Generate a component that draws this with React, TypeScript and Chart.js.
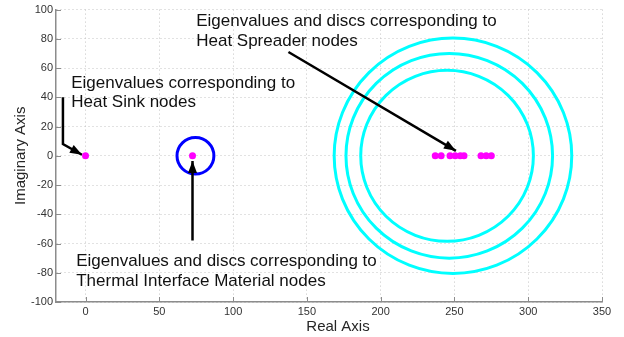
import React, { useEffect, useRef } from "react";
import { Chart, registerables } from "chart.js";

Chart.register(...registerables);

// Axis ticks
const X_TICKS = [0, 50, 100, 150, 200, 250, 300, 350];
const Y_TICKS = [-100, -80, -60, -40, -20, 0, 20, 40, 60, 80, 100];

// Eigenvalues (real parts; imaginary parts are zero)
const HEAT_SINK_EIG = [0];
const TIM_EIG = [72.5];
const SPREADER_EIG = [237, 241, 247, 250.5, 254, 256.5, 268, 271.5, 275];

// Gershgorin discs
const TIM_DISC_CENTERS = [74.5];
const TIM_DISC_RADII = [12.5];
const SPREADER_DISC_CENTERS = [245, 246.5, 249];
const SPREADER_DISC_RADII = [58.5, 70, 80.5];

// Arrows (data coordinates, last point is the tip)
const ARROW_HS_X = [-15.3, -15.3, -2.4];
const ARROW_HS_Y = [40, 8, 0.7];
const ARROW_TIM_X = [72.5, 72.5];
const ARROW_TIM_Y = [-58, -3.5];
const ARROW_HSP_X = [137.5, 251];
const ARROW_HSP_Y = [71, 3.4];

// Annotations
const LABEL_HS = ["Eigenvalues corresponding to", "Heat Sink nodes"];
const LABEL_HS_POS = [-9.7, 46.4];
const LABEL_HSP = ["Eigenvalues and discs corresponding to", "Heat Spreader nodes"];
const LABEL_HSP_POS = [75, 88.6];
const LABEL_TIM = ["Eigenvalues and discs corresponding to", "Thermal Interface Material nodes"];
const LABEL_TIM_POS = [-6.3, -75.5];

const X_TITLE = "Real Axis";
const Y_TITLE = "Imaginary Axis";

const FONT = '"Liberation Sans", Arial, Helvetica, sans-serif';

const toPts = (xs: number[], ys: number[]) => xs.map((x, i) => ({ x, y: ys[i] }));

export default function App() {
  const ref = useRef<HTMLCanvasElement>(null);

  useEffect(() => {
    document.body.style.margin = "0";
    const canvas = ref.current!;

    const arrowSeries = [
      [ARROW_HS_X, ARROW_HS_Y],
      [ARROW_TIM_X, ARROW_TIM_Y],
      [ARROW_HSP_X, ARROW_HSP_Y],
    ];

    const extras = {
      id: "extras",
      beforeDatasetsDraw(chart: any) {
        const { ctx, chartArea, scales } = chart;
        const xs = scales.x;
        const ys = scales.y;
        ctx.save();
        // inward ticks
        ctx.strokeStyle = "#8c8c8c";
        ctx.lineWidth = 1;
        ctx.beginPath();
        X_TICKS.forEach((v) => {
          const px = Math.round(xs.getPixelForValue(v)) + 0.5;
          ctx.moveTo(px, chartArea.bottom);
          ctx.lineTo(px, chartArea.bottom - 5);
        });
        Y_TICKS.forEach((v) => {
          const py = Math.round(ys.getPixelForValue(v)) + 0.5;
          ctx.moveTo(chartArea.left, py);
          ctx.lineTo(chartArea.left + 5, py);
        });
        ctx.stroke();

        // discs
        const drawDiscs = (centers: number[], radii: number[], color: string) => {
          ctx.strokeStyle = color;
          ctx.lineWidth = 3;
          centers.forEach((c, i) => {
            const cx = xs.getPixelForValue(c);
            const cy = ys.getPixelForValue(0);
            const rx = Math.abs(xs.getPixelForValue(c + radii[i]) - cx);
            const ry = Math.abs(ys.getPixelForValue(radii[i]) - cy);
            ctx.beginPath();
            ctx.ellipse(cx, cy, rx, ry, 0, 0, Math.PI * 2);
            ctx.stroke();
          });
        };
        drawDiscs(SPREADER_DISC_CENTERS, SPREADER_DISC_RADII, "#00FFFF");
        drawDiscs(TIM_DISC_CENTERS, TIM_DISC_RADII, "#0000FF");
        ctx.restore();
      },
      afterDatasetsDraw(chart: any) {
        const { ctx, chartArea, scales } = chart;
        const xs = scales.x;
        const ys = scales.y;
        ctx.save();
        // arrowheads
        ctx.fillStyle = "#000";
        arrowSeries.forEach(([ax, ay]) => {
          const n = ax.length;
          const x1 = xs.getPixelForValue(ax[n - 2]);
          const y1 = ys.getPixelForValue(ay[n - 2]);
          const x2 = xs.getPixelForValue(ax[n - 1]);
          const y2 = ys.getPixelForValue(ay[n - 1]);
          const ang = Math.atan2(y2 - y1, x2 - x1);
          const len = 12;
          const hw = 4.5;
          const bx = x2 - len * Math.cos(ang);
          const by = y2 - len * Math.sin(ang);
          ctx.beginPath();
          ctx.moveTo(x2, y2);
          ctx.lineTo(bx + hw * Math.sin(ang), by - hw * Math.cos(ang));
          ctx.lineTo(bx - hw * Math.sin(ang), by + hw * Math.cos(ang));
          ctx.closePath();
          ctx.fill();
        });

        // annotations
        ctx.fillStyle = "#111";
        ctx.font = `17px ${FONT}`;
        ctx.textAlign = "left";
        ctx.textBaseline = "alphabetic";
        const drawLabel = (lines: string[], pos: number[]) => {
          const px = xs.getPixelForValue(pos[0]);
          const py = ys.getPixelForValue(pos[1]);
          lines.forEach((t, i) => ctx.fillText(t, px, py + i * 19.5));
        };
        drawLabel(LABEL_HS, LABEL_HS_POS);
        drawLabel(LABEL_HSP, LABEL_HSP_POS);
        drawLabel(LABEL_TIM, LABEL_TIM_POS);

        // axis titles
        ctx.fillStyle = "#262626";
        ctx.font = `15px ${FONT}`;
        ctx.textAlign = "center";
        ctx.fillText(X_TITLE, (chartArea.left + chartArea.right) / 2 + 9, 331);
        ctx.translate(25, (chartArea.top + chartArea.bottom) / 2);
        ctx.rotate(-Math.PI / 2);
        ctx.fillText(Y_TITLE, 0, 0);
        ctx.restore();
      },
    };

    const tickFont = { family: FONT, size: 11 };

    const chart = new Chart(canvas, {
      type: "scatter",
      data: {
        datasets: [
          {
            label: "Heat Sink",
            data: HEAT_SINK_EIG.map((x) => ({ x, y: 0 })),
            pointRadius: 3.5,
            pointBackgroundColor: "#FF00FF",
            pointBorderWidth: 0,
          },
          {
            label: "TIM",
            data: TIM_EIG.map((x) => ({ x, y: 0 })),
            pointRadius: 3.5,
            pointBackgroundColor: "#FF00FF",
            pointBorderWidth: 0,
          },
          {
            label: "Heat Spreader",
            data: SPREADER_EIG.map((x) => ({ x, y: 0 })),
            pointRadius: 3.5,
            pointBackgroundColor: "#FF00FF",
            pointBorderWidth: 0,
          },
          ...arrowSeries.map(([ax, ay], i) => ({
            label: "arrow" + i,
            data: toPts(ax, ay),
            showLine: true,
            pointRadius: 0,
            borderColor: "#000",
            borderWidth: 2.5,
            fill: false,
          })),
        ],
      },
      options: {
        animation: false,
        responsive: false,
        devicePixelRatio: 1,
        layout: { padding: { top: 8, right: 22, left: 0, bottom: 0 } },
        plugins: { legend: { display: false }, tooltip: { enabled: false } },
        scales: {
          x: {
            type: "linear",
            min: -20,
            max: 350,
            afterBuildTicks: (s: any) => {
              s.ticks = X_TICKS.map((v) => ({ value: v }));
            },
            afterFit: (s: any) => {
              s.height = 35;
            },
            grid: { color: "#c4c4c4", lineWidth: 1, drawTicks: false },
            border: { display: true, color: "#8c8c8c", width: 1.5, dash: [1, 3] },
            ticks: { font: tickFont, color: "#333", padding: 3, autoSkip: false, maxRotation: 0 },
          },
          y: {
            type: "linear",
            min: -100,
            max: 100,
            afterBuildTicks: (s: any) => {
              s.ticks = Y_TICKS.map((v) => ({ value: v }));
            },
            afterFit: (s: any) => {
              s.width = 56;
            },
            grid: { color: "#c4c4c4", lineWidth: 1, drawTicks: false },
            border: { display: true, color: "#8c8c8c", width: 1.5, dash: [1, 3] },
            ticks: { font: tickFont, color: "#333", padding: 3, autoSkip: false },
          },
        },
      },
      plugins: [extras],
    } as any);

    return () => chart.destroy();
  }, []);

  return (
    <div style={{ width: 624, height: 337 }}>
      <canvas ref={ref} width={624} height={337} style={{ display: "block" }} />
    </div>
  );
}
